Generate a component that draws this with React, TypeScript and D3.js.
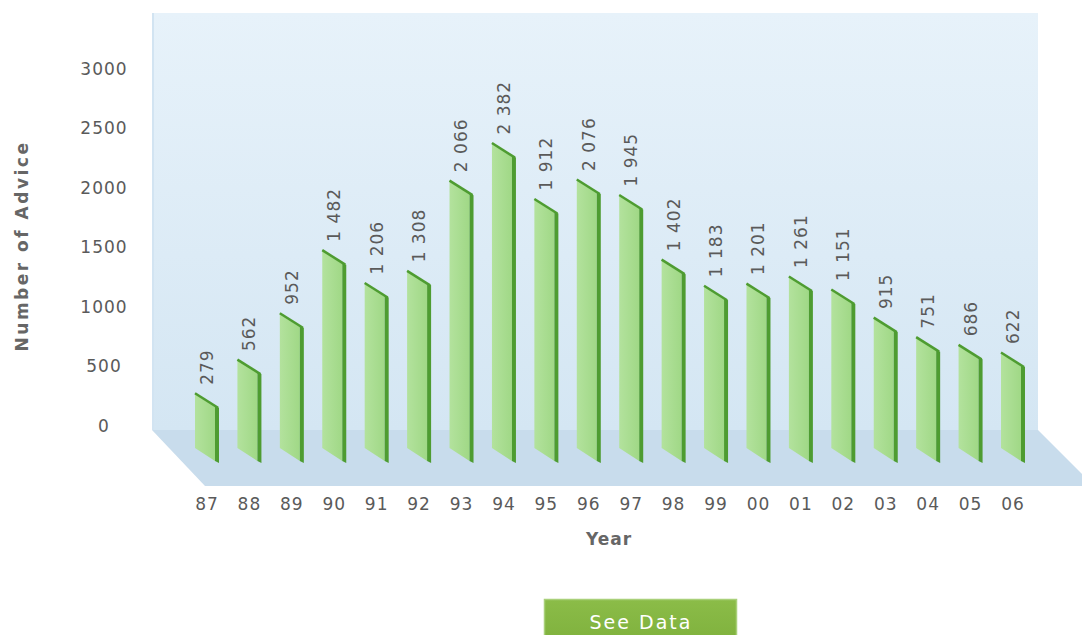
import { useEffect } from "react";
import * as d3 from "d3";

const years = ["87", "88", "89", "90", "91", "92", "93", "94", "95", "96", "97", "98", "99", "00", "01", "02", "03", "04", "05", "06"];
const advice = [279, 562, 952, 1482, 1206, 1308, 2066, 2382, 1912, 2076, 1945, 1402, 1183, 1201, 1261, 1151, 915, 751, 686, 622];
const yTicks = [0, 500, 1000, 1500, 2000, 2500, 3000];

const W = 1082;
const H = 635;
const font = "'DejaVu Sans', Verdana, sans-serif";

export default function App() {
  useEffect(() => {
    document.body.style.margin = "0";
  }, []);

  const y = d3.scaleLinear().domain([0, 3000]).range([426, 69]);
  const x = d3.scalePoint<string>().domain(years).range([195, 1001]);
  const fmt = d3.formatLocale({ decimal: ".", thousands: " ", grouping: [3], currency: ["", ""] }).format(",");

  // wall + floor geometry
  const wall = { x0: 152, x1: 1038, y0: 13, y1: 430 };
  const depth = { dx: 56, dy: 56 };
  const floor = [
    [wall.x0, wall.y1],
    [wall.x1, wall.y1],
    [wall.x1 + depth.dx, wall.y1 + depth.dy],
    [wall.x0 + depth.dx - 3, wall.y1 + depth.dy],
  ];
  const line = d3.line();
  const base = y(0) + 22;

  return (
    <svg width={W} height={H} style={{ display: "block", background: "#fff" }}>
      <defs>
        <linearGradient id="wallG" x1="0" y1="0" x2="0" y2="1">
          <stop offset="0" stopColor="#e7f2fa" />
          <stop offset="1" stopColor="#d4e6f3" />
        </linearGradient>
        <linearGradient id="barG" x1="0" y1="0" x2="1" y2="0">
          <stop offset="0" stopColor="#b3e29d" />
          <stop offset="1" stopColor="#a0d886" />
        </linearGradient>
        <linearGradient id="btnG" x1="0" y1="0" x2="0" y2="1">
          <stop offset="0" stopColor="#8bbc48" />
          <stop offset="1" stopColor="#80b23e" />
        </linearGradient>
      </defs>

      {/* back wall */}
      <rect x={wall.x0} y={wall.y0} width={wall.x1 - wall.x0} height={wall.y1 - wall.y0} fill="url(#wallG)" />
      <rect x={wall.x0} y={wall.y0} width={2} height={wall.y1 - wall.y0} fill="#d2e4f2" />
      {/* floor */}
      <path d={line(floor as [number, number][]) + "Z"} fill="#c8dcec" />

      {/* y ticks */}
      {yTicks.map((t) => (
        <text key={t} x={104} y={y(t)} dy="0.35em" textAnchor="middle" fontFamily={font} fontSize={17} letterSpacing={1} fill="#5a5a5a">
          {t}
        </text>
      ))}

      {/* bars */}
      {years.map((yr, i) => {
        const xl = x(yr) as number;
        const yt = y(advice[i]);
        const face = [[xl, yt], [xl + 20, yt + 13], [xl + 20, base + 13], [xl, base]];
        const side = [[xl + 20, yt + 13], [xl + 24, yt + 15], [xl + 24, base + 15], [xl + 20, base + 13]];
        return (
          <g key={yr}>
            <path d={line(face as [number, number][]) + "Z"} fill="url(#barG)" />
            <path d={line(side as [number, number][]) + "Z"} fill="#4e9c31" />
            <line x1={xl} y1={yt + 0.5} x2={xl + 23} y2={yt + 15} stroke="#4e9c31" strokeWidth={2.5} />
            <text
              transform={`translate(${xl + 12},${yt - 8}) rotate(-90)`}
              dy="0.35em"
              fontFamily={font}
              fontSize={17}
              letterSpacing={1}
              fill="#5a5a5a"
            >
              {fmt(advice[i])}
            </text>
          </g>
        );
      })}

      {/* x ticks */}
      {years.map((yr) => (
        <text key={yr} x={(x(yr) as number) + 12} y={510} textAnchor="middle" fontFamily={font} fontSize={17} letterSpacing={1} fill="#5a5a5a">
          {yr}
        </text>
      ))}

      {/* axis titles */}
      <text x={609} y={545} textAnchor="middle" fontFamily={font} fontSize={17} fontWeight="bold" letterSpacing={1} fill="#666">
        Year
      </text>
      <text transform="translate(28,246) rotate(-90)" textAnchor="middle" fontFamily={font} fontSize={17} fontWeight="bold" letterSpacing={2.5} fill="#666">
        Number of Advice
      </text>

      {/* button */}
      <rect x={544.5} y={599.5} width={192} height={40} fill="url(#btnG)" stroke="#a9d07a" strokeWidth={1.5} />
      <text x={641} y={629} textAnchor="middle" fontFamily={font} fontSize={19} letterSpacing={2} fill="#fff">
        See Data
      </text>
    </svg>
  );
}
